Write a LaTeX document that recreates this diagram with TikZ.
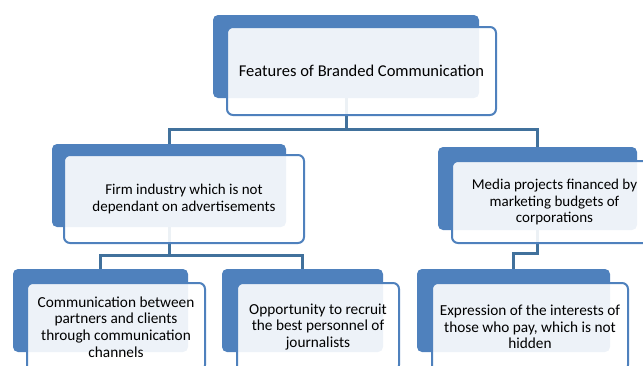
\documentclass[tikz,border=0pt]{standalone}
\usepackage{fontspec}
\setmainfont{Carlito}
\usetikzlibrary{backgrounds,calc}
\definecolor{accent}{HTML}{4F81BD}
\definecolor{connblue}{HTML}{41719C}
\tikzset{
  backbox/.style={fill=accent, draw=none, rounded corners=5pt, inner sep=0pt},
  frontbox/.style={fill=white, fill opacity=0.9, text opacity=1, draw=accent, line width=2pt,
    rounded corners=6pt, inner sep=0pt, align=center, font=\fontsize{15.3}{16.6}\selectfont},
  midtext/.style={font=\fontsize{15}{16.6}\selectfont},
  toptext/.style={font=\fontsize{16.5}{18}\selectfont},
  conn/.style={draw=connblue, line width=3pt},
}
\begin{document}
\begin{tikzpicture}[x=1pt,y=-1pt]
\useasboundingbox (0,0) rectangle (643,365);
\clip (0,0) rectangle (643,365);
% back boxes
\node[backbox, minimum width=266pt, minimum height=83pt] (b0) at (346,56.5) {};
\node[backbox, minimum width=234pt, minimum height=83pt] (b1) at (169,185.5) {};
\node[backbox, minimum width=199pt, minimum height=83pt] (b2) at (537.5,188.5) {};
\node[backbox, minimum width=175pt, minimum height=83pt] (b3) at (100.5,310.5) {};
\node[backbox, minimum width=161pt, minimum height=83pt] (b4) at (302.5,310.5) {};
\node[backbox, minimum width=193pt, minimum height=83pt] (b5) at (513.5,310.5) {};
% front boxes
\node[frontbox, toptext, minimum width=269pt, minimum height=88pt] (f0) at (361.5,71) {Features of Branded Communication};
\node[frontbox, midtext, minimum width=240pt, minimum height=88pt] (f1) at (184,199) {Firm industry which is not\\dependant on advertisements};
\node[frontbox, midtext, minimum width=205pt, minimum height=82pt] (f2) at (554.5,202) {Media projects financed by\\marketing budgets of\\corporations};
\node[frontbox, minimum width=178pt, minimum height=88pt] (f3) at (116,327) {Communication between\\partners and clients\\through communication\\channels};
\node[frontbox, minimum width=162pt, minimum height=88pt] (f4) at (318,327) {Opportunity to recruit\\the best personnel of\\journalists};
\node[frontbox, minimum width=196pt, minimum height=88pt] (f5) at (530,327) {Expression of the interests of\\those who pay, which is not\\hidden};
% connectors
\begin{pgfonlayer}{background}
\coordinate (j0) at ($(b0.south)+(0,31)$);
\draw[conn] (b0.south) -- (j0) -| (b1.north);
\draw[conn] (j0) -| (b2.north);
\coordinate (j1) at ($(b1.south)+(0,28)$);
\draw[conn] (b1.south) -- (j1) -| (b3.north);
\draw[conn] (j1) -| (b4.north);
\coordinate (j2) at ($(b2.south)+(0,23)$);
\draw[conn] (b2.south) -- (j2) -| (b5.north);
\end{pgfonlayer}
\end{tikzpicture}
\end{document}
